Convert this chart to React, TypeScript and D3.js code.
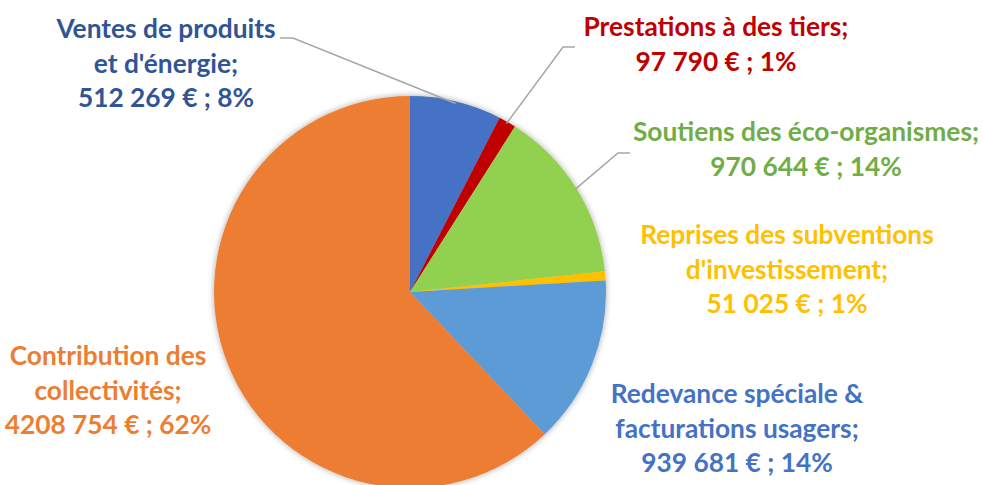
import React from "react";
import * as d3 from "d3";

const categories = [
  "Ventes de produits et d'énergie",
  "Prestations à des tiers",
  "Soutiens des éco-organismes",
  "Reprises des subventions d'investissement",
  "Redevance spéciale & facturations usagers",
  "Contribution des collectivités",
];
const values = [512269, 97790, 970644, 51025, 939681, 4208754];
const valueLabels = ["512 269 €", "97 790 €", "970 644 €", "51 025 €", "939 681 €", "4208 754 €"];
const percentLabels = ["8%", "1%", "14%", "1%", "14%", "62%"];
const labelLines = [
  ["Ventes de produits", "et d'énergie;"],
  ["Prestations à des tiers;"],
  ["Soutiens des éco-organismes;"],
  ["Reprises des subventions", "d'investissement;"],
  ["Redevance spéciale &", "facturations usagers;"],
  ["Contribution des", "collectivités;"],
];

const sliceColors = ["#4472C4", "#C00000", "#92D050", "#FFC000", "#5B9BD5", "#ED7D31"];
const textColors = ["#2F5597", "#C00000", "#70AD47", "#FFC000", "#4472C4", "#ED7D31"];

// label layout: x center, first baseline
const labelPos = [
  { x: 166, y: 38 },
  { x: 716, y: 36 },
  { x: 806, y: 141 },
  { x: 787, y: 244 },
  { x: 737, y: 403 },
  { x: 108, y: 365 },
];
// leader line: elbow end points (label side) for slices that have one
const leaders: Record<number, { ex: number; ey: number; hx: number }> = {
  0: { ex: 293, ey: 38, hx: 280 },
  1: { ex: 563, ey: 47, hx: 575 },
  2: { ex: 618, ey: 153, hx: 630 },
};

const W = 983;
const H = 485;
const cx = 410;
const cy = 292;
const R = 196;
const lineH = 34.5;
const fontSize = 26.3;

export default function App() {
  const pie = d3.pie<number>().sort(null).value((d) => d)(values);
  const arc = d3.arc<d3.PieArcDatum<number>>().innerRadius(0).outerRadius(R);

  return (
    <svg
      width={W}
      height={H}
      style={{ position: "absolute", left: 0, top: 0, background: "#fff" }}
      fontFamily="Lato, 'Open Sans', sans-serif"
      fontWeight={700}
    >
      <defs>
        <filter id="sh" x="-20%" y="-20%" width="140%" height="140%">
          <feGaussianBlur in="SourceAlpha" stdDeviation="3" />
          <feOffset dx="0" dy="0" result="b" />
          <feComponentTransfer>
            <feFuncA type="linear" slope="0.35" />
          </feComponentTransfer>
          <feMerge>
            <feMergeNode />
            <feMergeNode in="SourceGraphic" />
          </feMerge>
        </filter>
      </defs>
      <g transform={`translate(${cx},${cy})`} filter="url(#sh)">
        {pie.map((p, i) => (
          <path key={i} d={arc(p) || ""} fill={sliceColors[i]} />
        ))}
      </g>
      {pie.map((p, i) => {
        const l = leaders[i];
        if (!l) return null;
        const a = (p.startAngle + p.endAngle) / 2;
        const sx = cx + (R - 2) * Math.sin(a);
        const sy = cy - (R - 2) * Math.cos(a);
        return (
          <polyline
            key={"l" + i}
            points={`${sx},${sy} ${l.ex},${l.ey} ${l.hx},${l.ey}`}
            fill="none"
            stroke="#A6A6A6"
            strokeWidth={1.5}
          />
        );
      })}
      {categories.map((c, i) => {
        const lines = [...labelLines[i], `${valueLabels[i]} ; ${percentLabels[i]}`];
        const pos = labelPos[i];
        return (
          <text key={"t" + i} fill={textColors[i]} fontSize={fontSize} textAnchor="middle">
            {lines.map((ln, j) => (
              <tspan key={j} x={pos.x} y={pos.y + j * lineH}>
                {ln}
              </tspan>
            ))}
          </text>
        );
      })}
    </svg>
  );
}
